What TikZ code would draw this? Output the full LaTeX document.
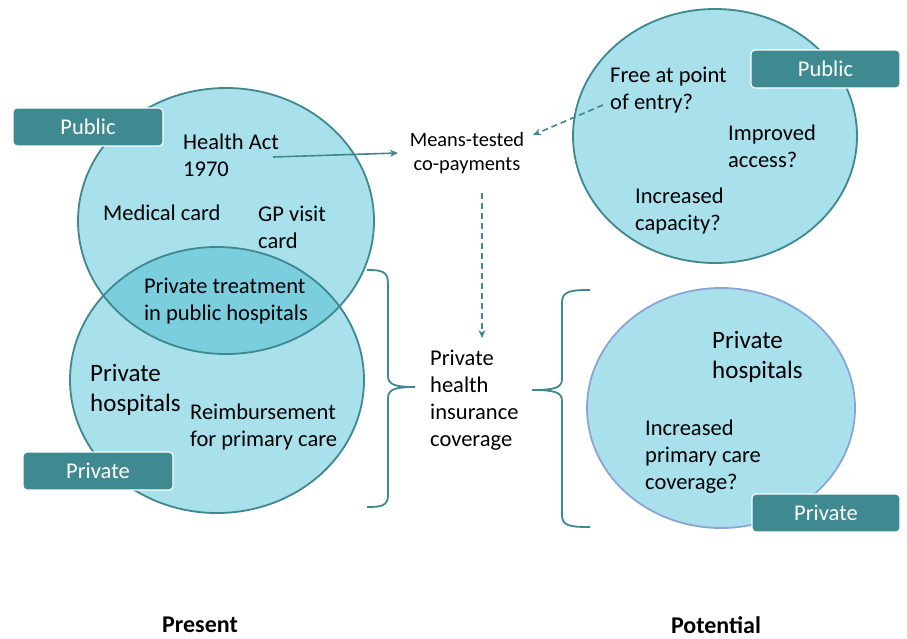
\documentclass[tikz,border=0pt]{standalone}
\usepackage{fontspec}
\setmainfont{Carlito}
\usetikzlibrary{arrows.meta}
\definecolor{teal1}{RGB}{62,136,142}
\definecolor{fillc}{RGB}{168,224,236}
\definecolor{lensc}{RGB}{122,206,222}
\definecolor{lav}{RGB}{140,165,215}
\definecolor{boxc}{RGB}{62,138,144}
\newcommand\fsz[2]{\fontsize{#1}{#2}\selectfont}
\begin{document}
\begin{tikzpicture}[x=1pt,y=-1pt,
 txt/.style={font=\fsz{22.5}{27}, inner sep=0pt, align=left, anchor=west},
 bigtxt/.style={font=\fsz{25}{30}, inner sep=0pt, align=left, anchor=west},
 lbl/.style={draw=white, line width=1.2pt, fill=boxc, rounded corners=4pt, text=white, font=\fsz{22.5}{27}, minimum width=150pt, minimum height=38pt, inner sep=0pt},
 outline/.style={draw=teal1, line width=1.8pt},
 arr/.style={draw=teal1, line width=1.6pt, -{Stealth[length=8pt,width=7pt]}},
 darr/.style={arr, dash pattern=on 6pt off 4pt},
 bracestyle/.style={draw=teal1, line width=1.8pt},
 ttl/.style={font=\fsz{24}{28}\bfseries, inner sep=0pt}]
\fill[white] (0,0) rectangle (907,638);
\useasboundingbox (0,0) rectangle (907,638);

% left circles
\fill[fillc] (226,221) ellipse [x radius=148pt, y radius=133pt];
\fill[fillc] (217,380) ellipse [x radius=147pt, y radius=133pt];
\begin{scope}
  \clip (226,221) ellipse [x radius=148pt, y radius=133pt];
  \fill[lensc] (217,380) ellipse [x radius=147pt, y radius=133pt];
\end{scope}
\draw[outline] (226,221) ellipse [x radius=148pt, y radius=133pt];
\draw[outline] (217,380) ellipse [x radius=147pt, y radius=133pt];

% right circles
\filldraw[fill=fillc, outline] (715,136) ellipse [x radius=142pt, y radius=127pt];
\filldraw[fill=fillc, draw=lav, line width=1.8pt] (721,408) ellipse [x radius=134pt, y radius=120pt];

% labels
\node[lbl] (pub1) at (88,127) {Public};
\node[lbl] (prv1) at (98,471) {Private};
\node[lbl, minimum width=149pt] (pub2) at (825.5,69) {Public};
\node[lbl, minimum width=148pt] (prv2) at (826,513) {Private};

% left texts
\node[txt] (ha) at (183,155) {Health Act\\1970};
\node[txt] (mc) at (103,213) {Medical card};
\node[txt] (gp) at (258,227) {GP visit\\card};
\node[txt, align=left, anchor=center] (pt) at (226,301) {Private treatment\\in public hospitals};
\node[bigtxt] (ph) at (90,390) {Private\\hospitals};
\node[txt] (rb) at (190,427) {Reimbursement\\for primary care};

% middle
\node[font=\fsz{20.4}{24}, inner sep=0pt, align=center] (means) at (467,153) {Means-tested\\co-payments};
\node[txt] (phi) at (430,400) {Private\\health\\insurance\\coverage};

% right texts
\node[txt] (fe) at (610,90) {Free at point\\of entry?};
\node[txt] (ia) at (728,146) {Improved\\access?};
\node[txt] (ic) at (635,211) {Increased\\capacity?};
\node[bigtxt] (rph) at (712,357) {Private\\hospitals};
\node[txt] (ipc) at (645,457) {Increased\\primary care\\coverage?};

% titles
\node[ttl] (present) at (200,625) {Present};
\node[ttl] (potential) at (716,625) {Potential};

% connectors
\coordinate (hastart) at (273,157);
\coordinate (haend) at (398,153);
\coordinate (festart) at (603,105);
\coordinate (feend) at (533,135);
\coordinate (vtop) at (482,193);
\coordinate (vbot) at (482,338);
\draw[arr] (hastart) -- (haend);
\draw[darr] (festart) -- (feend);
\draw[darr] (vtop) -- (vbot);

% braces
\draw[bracestyle] (367,270) .. controls (381,270) and (388,271) .. (388,283) -- (388,376) .. controls (388,385) and (396,387) .. (415,387);
\draw[bracestyle] (367,507) .. controls (381,507) and (388,506) .. (388,495) -- (388,398) .. controls (388,389) and (396,387) .. (415,387);
\draw[bracestyle] (590,290) .. controls (570,290) and (562,291) .. (562,303) -- (562,379) .. controls (562,388) and (554,390) .. (532,390);
\draw[bracestyle] (590,527) .. controls (570,527) and (562,526) .. (562,515) -- (562,401) .. controls (562,392) and (554,390) .. (532,390);
\end{tikzpicture}
\end{document}
